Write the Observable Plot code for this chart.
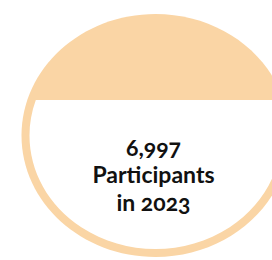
<!DOCTYPE html>
<html>
<head>
<meta charset="utf-8">
<script src="https://cdn.jsdelivr.net/npm/d3@7"></script>
<script src="https://cdn.jsdelivr.net/npm/@observablehq/plot@0.6"></script>
<style>
  html, body { margin: 0; padding: 0; background: #fff; }
  svg { display: block; }
</style>
</head>
<body>
<div id="chart"></div>
<script>
// ---- data ----
const years = [2023];
const participants = [6997];
const labelWords = ["Participants", "in"];

const rows = years.map((y, i) => ({
  year: String(y),
  value: participants[i],
  label: `${d3.format(",")(participants[i])}\n${labelWords[0]}\n${labelWords[1]} ${y}`
}));

// ---- geometry helpers (shape only) ----
const PEACH = "#fad5a5";
const RX = 134, RY = 121.5, RING = 8, CHORD = -35.5;

function arcTo(ctx, rx, ry, a0, a1) {
  const n = Math.ceil(Math.abs(a1 - a0) / (Math.PI / 2));
  const step = (a1 - a0) / n;
  for (let i = 0; i < n; i++) {
    const t0 = a0 + i * step, t1 = t0 + step;
    const k = 4 / 3 * Math.tan(step / 4);
    const c0 = Math.cos(t0), s0 = Math.sin(t0), c1 = Math.cos(t1), s1 = Math.sin(t1);
    ctx.bezierCurveTo(
      rx * (c0 - k * s0), ry * (s0 + k * c0),
      rx * (c1 + k * s1), ry * (s1 - k * c1),
      rx * c1, ry * s1
    );
  }
}
const outerEllipse = {
  draw(ctx) {
    ctx.moveTo(RX, 0);
    arcTo(ctx, RX, RY, 0, 2 * Math.PI);
    ctx.closePath();
  }
};
const innerLower = {
  draw(ctx) {
    const rx = RX - RING, ry = RY - RING;
    const t = Math.asin(CHORD / ry);
    ctx.moveTo(rx * Math.cos(t), ry * Math.sin(t));
    arcTo(ctx, rx, ry, t, Math.PI - t);
    ctx.closePath();
  }
};

const chart = Plot.plot({
  width: 272,
  height: 260,
  marginLeft: 38,
  marginRight: 0,
  marginTop: 9,
  marginBottom: 0,
  x: {type: "point", domain: rows.map(d => d.year), axis: null},
  y: {type: "point", domain: rows.map(d => d.year), axis: null},
  style: {background: "#fff"},
  marks: [
    Plot.dot(rows, {x: "year", y: "year", symbol: outerEllipse, r: 10, fill: PEACH, stroke: "none"}),
    Plot.dot(rows, {x: "year", y: "year", symbol: innerLower, r: 10, fill: "#fff", stroke: "none"}),
    Plot.text(rows, {
      x: "year", y: "year", text: "label",
      dx: -2, dy: 39,
      lineAnchor: "middle", lineHeight: 1.2,
      fontSize: 23, fontWeight: "bold",
      fontFamily: "Lato, 'Open Sans', sans-serif",
      fill: "#111"
    })
  ]
});
chart.querySelectorAll("text").forEach(t => t.style.fontVariantNumeric = "oldstyle-nums");
document.getElementById("chart").appendChild(chart);
</script>
</body>
</html>
